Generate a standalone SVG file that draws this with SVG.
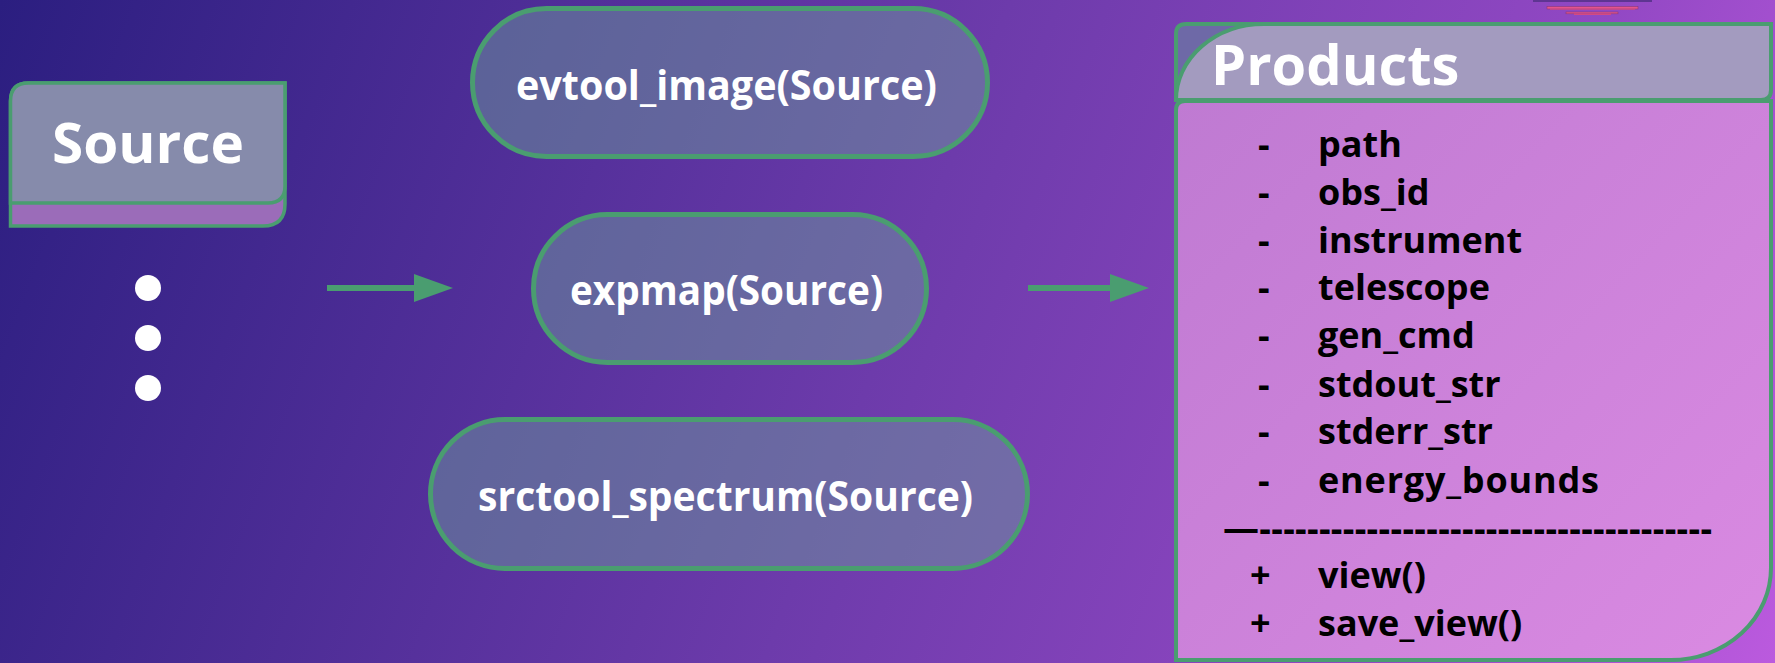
<svg xmlns="http://www.w3.org/2000/svg" width="1775" height="663" viewBox="0 0 1775 663">
  <defs>
    <linearGradient id="bg" gradientUnits="userSpaceOnUse" x1="0" y1="0" x2="1775" y2="663">
      <stop offset="0" stop-color="#2b1e80"/>
      <stop offset="0.5" stop-color="#6d3bab"/>
      <stop offset="0.8" stop-color="#9248c4"/>
      <stop offset="1" stop-color="#bb5ade"/>
    </linearGradient>
    <linearGradient id="body" gradientUnits="userSpaceOnUse" x1="1175" y1="100" x2="1772" y2="660">
      <stop offset="0" stop-color="#bf7ad2"/>
      <stop offset="1" stop-color="#da8ae2"/>
    </linearGradient>
    <marker id="arrow" markerUnits="userSpaceOnUse" viewBox="0 0 40 28" markerWidth="40" markerHeight="28" refX="0" refY="14" orient="auto">
      <path d="M0,0 L39,14 L0,28 Z" fill="#4a9d70"/>
    </marker>
    <style>
      .pill { fill: #6c989c; fill-opacity: 0.5; stroke: #4a9d70; stroke-width: 5; }
      .ptxt { font-family: "Open Sans", "Liberation Sans", sans-serif; font-weight: 700; font-size: 41px; fill: #ffffff; text-anchor: middle; }
      .title { font-family: "Open Sans", "Liberation Sans", sans-serif; font-weight: 700; fill: #ffffff; }
      .item { font-family: "Open Sans", "Liberation Sans", sans-serif; font-weight: 700; font-size: 36px; fill: #000000; }
      .edge { stroke: #4a9d70; stroke-width: 6; fill: none; marker-end: url(#arrow); }
      .outline { stroke: #4a9d70; stroke-width: 4; }
    </style>
  </defs>

  <rect x="0" y="0" width="1775" height="663" fill="url(#bg)"/>

  <g id="decor">
    <rect x="1533" y="0" width="119" height="2" fill="#5e3592"/>
    <rect x="1547" y="6.5" width="91" height="2.5" fill="#e4548c" stroke="#8a3a78" stroke-width="0.6"/>
    <rect x="1550" y="8.5" width="85" height="1.2" fill="#d24a84"/>
    <rect x="1566" y="12" width="52" height="1.8" fill="#e4548c" stroke="#8a3a78" stroke-width="0.6"/>
    <rect x="1574" y="13.5" width="37" height="1.5" fill="#d24a84"/>
  </g>

  <g id="connectors">
    <line class="edge" x1="327" y1="288" x2="414" y2="288"/>
    <line class="edge" x1="1028" y1="288" x2="1110" y2="288"/>
  </g>

  <g id="source">
    <path d="M10.5,226 L10.5,101 Q10.5,83 28.5,83 L285,83 L285,204 Q285,226 263,226 Z" fill="#9b6cb9" stroke="#4a9d70" stroke-width="3.5"/>
    <path d="M10.5,203 L10.5,101 Q10.5,83 28.5,83 L285,83 L285,186 Q285,203 268,203 Z" fill="#868bab" stroke="#4a9d70" stroke-width="3.5"/>
    <text class="title" x="148" y="163" font-size="56" text-anchor="middle" textLength="192" lengthAdjust="spacingAndGlyphs">Source</text>
  </g>

  <g id="dots" fill="#ffffff">
    <circle cx="148" cy="288" r="13"/>
    <circle cx="148" cy="338" r="13"/>
    <circle cx="148" cy="388" r="13"/>
  </g>

  <g id="evtool_image">
    <rect class="pill" x="472.5" y="8.5" width="515" height="148" rx="74" ry="74"/>
    <text class="ptxt" x="726.5" y="100" textLength="421" lengthAdjust="spacingAndGlyphs">evtool_image(Source)</text>
  </g>

  <g id="expmap">
    <rect class="pill" x="533.5" y="214.5" width="393" height="148" rx="74" ry="74"/>
    <text class="ptxt" x="726.5" y="305" textLength="313" lengthAdjust="spacingAndGlyphs">expmap(Source)</text>
  </g>

  <g id="srctool_spectrum">
    <rect class="pill" x="430.5" y="419.5" width="597" height="149" rx="74.5" ry="74.5"/>
    <text class="ptxt" x="725.5" y="511" textLength="495" lengthAdjust="spacingAndGlyphs">srctool_spectrum(Source)</text>
  </g>

  <g id="products">
    <path class="outline" d="M1176,100 L1176,34 Q1176,24 1186,24 L1300,24 L1300,100 Z" fill="#6e69a7"/>
    <path class="outline" d="M1176,100 A88,76 0 0 1 1264,24 L1771,24 L1771,90 Q1771,100 1761,100 Z" fill="#a39bbf"/>
    <path class="outline" d="M1176,660 L1176,110 Q1176,101 1185,101 L1771,101 L1771,568 A100,92 0 0 1 1671,660 Z" fill="url(#body)"/>
    <text class="title" x="1211" y="85" font-size="56">Products</text>
    <g class="item">
      <text x="1258" y="157">-</text><text x="1318" y="157">path</text>
      <text x="1258" y="205">-</text><text x="1318" y="205">obs_id</text>
      <text x="1258" y="253">-</text><text x="1318" y="253">instrument</text>
      <text x="1258" y="300">-</text><text x="1318" y="300">telescope</text>
      <text x="1258" y="348">-</text><text x="1318" y="348">gen_cmd</text>
      <text x="1258" y="397">-</text><text x="1318" y="397">stdout_str</text>
      <text x="1258" y="444">-</text><text x="1318" y="444">stderr_str</text>
      <text x="1258" y="493">-</text><text x="1318" y="493" textLength="281">energy_bounds</text>
      <text x="1223" y="541" textLength="489">—--------------------------------------</text>
      <text x="1250" y="588">+</text><text x="1318" y="588">view()</text>
      <text x="1250" y="636">+</text><text x="1318" y="636">save_view()</text>
    </g>
  </g>
</svg>
